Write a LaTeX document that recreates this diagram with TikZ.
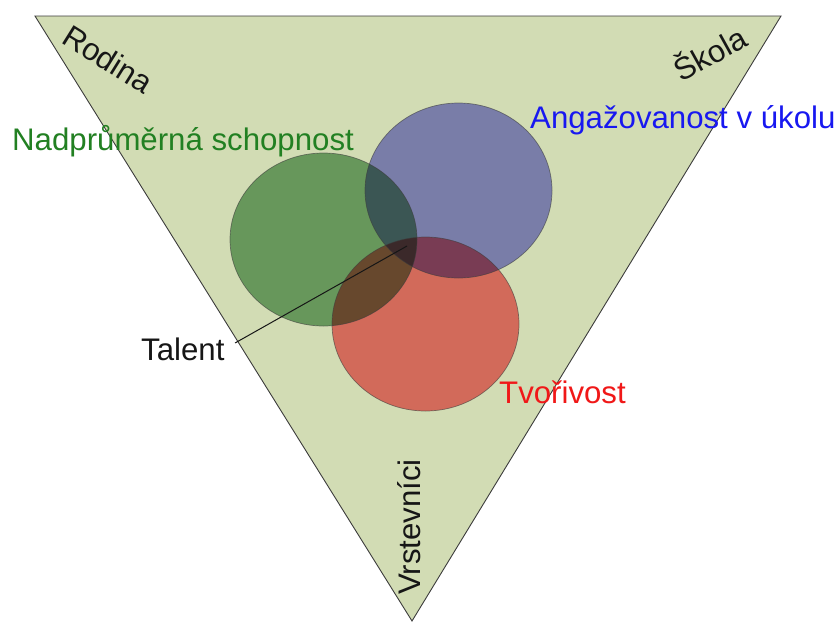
\documentclass[tikz,border=0pt]{standalone}
\usepackage{fontspec}
\setmainfont{Liberation Sans}
\usetikzlibrary{calc}
\definecolor{bgtri}{RGB}{210,220,180}
\definecolor{cgreen}{RGB}{126,176,130}
\definecolor{cblue}{RGB}{148,146,238}
\definecolor{cred}{RGB}{255,123,128}
\definecolor{tgreen}{RGB}{34,128,34}
\definecolor{tblue}{RGB}{24,24,240}
\definecolor{tred}{RGB}{240,24,24}
\definecolor{tdark}{RGB}{22,22,22}
\definecolor{edgec}{RGB}{60,60,60}
\tikzset{
  lbl/.style={inner sep=0pt, font=\fontsize{31.2}{36}\selectfont},
  circ/.style={draw=edgec, draw opacity=0.6, line width=0.7pt},
}
\begin{document}
\begin{tikzpicture}[x=1pt,y=-1pt]
\useasboundingbox (0,0) rectangle (837,624);
\coordinate (tl) at (35,16);
\coordinate (tr) at (781,16);
\coordinate (bt) at (412,621);
\draw[fill=bgtri, draw=edgec, line width=0.9pt, line join=miter] (tl) -- (tr) -- (bt) -- cycle;
\begin{scope}[blend mode=multiply]
  \fill[cgreen] (323.5,239.5) ellipse [x radius=93.5, y radius=86.5];
  \fill[cblue] (458.5,190.5) ellipse [x radius=93.5, y radius=87.5];
  \fill[cred] (425.5,324) ellipse [x radius=93.5, y radius=87];
\end{scope}
\draw[circ] (323.5,239.5) ellipse [x radius=93.5, y radius=86.5];
\draw[circ] (458.5,190.5) ellipse [x radius=93.5, y radius=87.5];
\draw[circ] (425.5,324) ellipse [x radius=93.5, y radius=87];
\node[lbl, text=tdark, rotate=-32] (rodina) at (108,59) {Rodina};
\node[lbl, text=tdark, rotate=29] (skola) at (709,52) {Škola};
\node[lbl, text=tdark, rotate=90, anchor=base] (vrst) at (420,527) {Vrstevníci};
\node[lbl, text=tgreen, anchor=base west] (nadp) at (12,150) {Nadprůměrná schopnost};
\node[lbl, text=tblue, anchor=base west] (anga) at (530,128) {Angažovanost v úkolu};
\node[lbl, text=tred, anchor=base west] (tvor) at (499,403) {Tvořivost};
\node[lbl, text=tdark, anchor=base west] (talent) at (141,360) {Talent};
\coordinate (tc) at (407,246);
\draw[tdark, line width=1pt, shorten <=12pt] (talent.east) -- (tc);
\end{tikzpicture}
\end{document}
